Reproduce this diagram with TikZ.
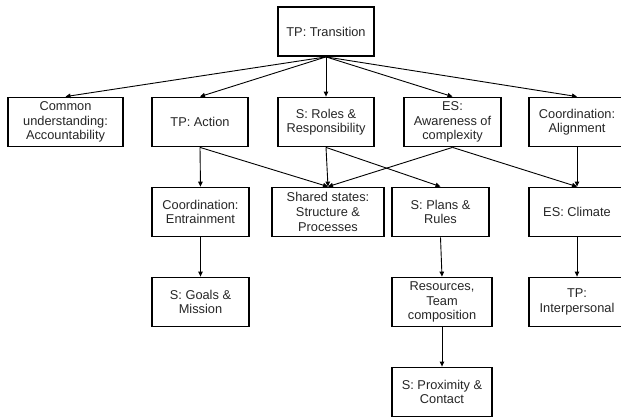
\documentclass[tikz,border=0pt]{standalone}
\usepackage{fontspec}
\setmainfont{Liberation Sans}
\usetikzlibrary{arrows.meta}
\begin{document}
\begin{tikzpicture}[x=1pt,y=-1pt,
  box/.style={draw=black, line width=1.8pt, fill=white, align=center, inner sep=1pt,
    minimum height=49pt, text=black!85,
    font=\fontsize{12.8pt}{14.6pt}\selectfont},
  link/.style={line width=0.9pt, -{Triangle[length=5pt,width=4.5pt]}}]
\useasboundingbox (0,0) rectangle (621,417);
\begin{scope}
\clip (0,0) rectangle (621,417);
\node[box, minimum width=96pt]  (trans)  at (326,31.5) {TP: Transition};
\node[box, minimum width=115pt] (common) at (65.5,122) {Common\\understanding:\\Accountability};
\node[box, minimum width=96pt]  (action) at (200,122) {TP: Action};
\node[box, minimum width=96pt]  (roles)  at (326,122) {S: Roles \&\\Responsibility};
\node[box, minimum width=97pt]  (aware)  at (452.5,122) {ES:\\Awareness of\\complexity};
\node[box, minimum width=96pt]  (align)  at (577,122) {Coordination:\\Alignment};
\node[box, minimum width=97pt]  (entrain) at (200.5,212) {Coordination:\\Entrainment};
\node[box, minimum width=112pt] (shared) at (328,212) {Shared states:\\Structure \&\\Processes};
\node[box, minimum width=97pt]  (plans)  at (440.5,212) {S: Plans \&\\Rules};
\node[box, minimum width=96pt]  (climate) at (577,212) {ES: Climate};
\node[box, minimum width=97pt]  (goals)  at (200.5,302) {S: Goals \&\\Mission};
\node[box, minimum width=100pt] (res)    at (442,302) {Resources,\\Team\\composition};
\node[box, minimum width=96pt]  (interp) at (577,302) {TP:\\Interpersonal};
\node[box, minimum width=100pt] (prox)   at (442,392) {S: Proximity \&\\Contact};

\draw[link] (trans.south) -- (common.north);
\draw[link] (trans.south) -- (action.north);
\draw[link] (trans.south) -- (roles.north);
\draw[link] (trans.south) -- (aware.north);
\draw[link] (trans.south) -- (align.north);
\draw[link] (action.south) -- (entrain.north);
\draw[link] (action.south) -- (shared.north);
\draw[link] (roles.south) -- (shared.north);
\draw[link] (roles.south) -- (plans.north);
\draw[link] (aware.south) -- (shared.north);
\draw[link] (aware.south) -- (climate.north);
\draw[link] (align.south) -- (climate.north);
\draw[link] (entrain.south) -- (goals.north);
\draw[link] (plans.south) -- (res.north);
\draw[link] (res.south) -- (prox.north);
\draw[link] (climate.south) -- (interp.north);
\end{scope}
\end{tikzpicture}
\end{document}
